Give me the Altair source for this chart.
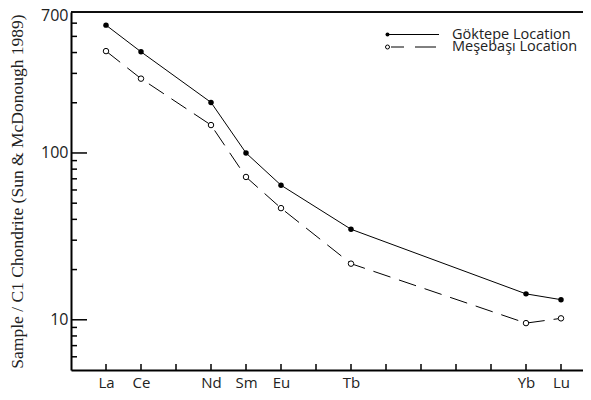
import altair as alt
import pandas as pd

# REE sequence index (La..Lu, Pm omitted); only analysed elements plotted
ree_sequence = ["La", "Ce", "Pr", "Nd", "Sm", "Eu", "Gd", "Tb", "Dy", "Ho", "Er", "Tm", "Yb", "Lu"]
elements = ["La", "Ce", "Nd", "Sm", "Eu", "Tb", "Yb", "Lu"]
goktepe = [584, 404, 201, 100, 64.1, 34.9, 14.3, 13.2]
mesebasi = [408, 279, 147, 71.8, 46.7, 21.7, 9.55, 10.2]
series_names = ["Göktepe Location", "Meşebaşı Location"]
y_labels = [10, 100, 700]
major_ticks = [10, 100]
minor_ticks = [6, 7, 8, 9, 20, 30, 40, 50, 60, 70, 80, 90, 200, 300, 400, 500, 600]
y_title = "Sample / C1 Chondrite (Sun & McDonough 1989)"

W, H = 512, 358
FONT = "Open Sans"
TXT = "#222222"

positions = [ree_sequence.index(e) for e in elements]
df_g = pd.DataFrame({"pos": positions, "value": goktepe, "el": elements})
df_m = pd.DataFrame({"pos": positions, "value": mesebasi, "el": elements})
df_xt = pd.DataFrame({"pos": list(range(len(ree_sequence)))})
df_minor = pd.DataFrame({"value": minor_ticks})
df_major = pd.DataFrame({"value": major_ticks})

label_expr = "''"
for p, e in zip(positions[::-1], elements[::-1]):
    label_expr = f"datum.value == {p} ? '{e}' : ({label_expr})"

xs = alt.Scale(domain=[-1, W / 35 - 1], nice=False, zero=False)
ys = alt.Scale(type="log", domain=[5, 700], nice=False)

xaxis = alt.Axis(values=positions, labelExpr=label_expr, ticks=False, grid=False,
                 domain=True, domainWidth=2, domainColor="black", title=None,
                 labelFont=FONT, labelFontSize=15, labelColor=TXT, labelPadding=5)
yaxis = alt.Axis(values=y_labels, format="d", ticks=False, grid=False,
                 domain=True, domainWidth=2, domainColor="black",
                 labelFont=FONT, labelFontSize=16, labelColor=TXT, labelPadding=3,
                 labelOffset={"condition": {"test": "datum.value == 700", "value": 3}, "value": 0},
                 title=y_title, titleFont="Liberation Serif", titleFontSize=17.5,
                 titleFontWeight="normal", titleColor=TXT, titlePadding=14)

X = alt.X("pos:Q", scale=xs, axis=xaxis)
Y = alt.Y("value:Q", scale=ys, axis=yaxis)

line_g = alt.Chart(df_g).mark_line(color="black", strokeWidth=1).encode(x=X, y=Y)
line_m = alt.Chart(df_m).mark_line(color="black", strokeWidth=1, strokeDash=[18, 9]).encode(x=X, y=Y)
pts_g = alt.Chart(df_g).mark_point(filled=True, color="black", size=30, opacity=1).encode(x=X, y=Y)
pts_m = alt.Chart(df_m).mark_point(filled=False, color="black", fill="white", fillOpacity=1,
                                   strokeWidth=1, size=30, opacity=1).encode(x=X, y=Y)

xt = alt.Chart(df_xt).mark_rule(color="black", strokeWidth=1.5).encode(
    x=X, y=alt.value(H), y2=alt.value(H - 6))
ymin = alt.Chart(df_minor).mark_rule(color="black", strokeWidth=1.5).encode(
    y=Y, x=alt.value(0), x2=alt.value(6))
ymaj = alt.Chart(df_major).mark_rule(color="black", strokeWidth=1.5).encode(
    y=Y, x=alt.value(0), x2=alt.value(16))
top = alt.Chart(df_major).mark_rule(color="black", strokeWidth=1.5).encode(
    x=alt.value(0), x2=alt.value(W), y=alt.value(0))

# legend
leg_df0 = pd.DataFrame({"label": [series_names[0]]})
leg_df1 = pd.DataFrame({"label": [series_names[1]]})
r0, r1 = 22.5, 35
leg_line0 = alt.Chart(leg_df0).mark_rule(color="black", strokeWidth=1).encode(
    x=alt.value(318), x2=alt.value(368), y=alt.value(r0))
leg_line1 = alt.Chart(leg_df1).mark_rule(color="black", strokeWidth=1, strokeDash=[13, 11, 21, 100]).encode(
    x=alt.value(320), x2=alt.value(366), y=alt.value(r1))
leg_pt0 = alt.Chart(leg_df0).mark_point(filled=True, color="black", size=16, opacity=1).encode(
    x=alt.value(316.5), y=alt.value(r0))
leg_pt1 = alt.Chart(leg_df1).mark_point(filled=False, color="black", fill="white", fillOpacity=1,
                                        size=16, strokeWidth=1, opacity=1).encode(
    x=alt.value(316.5), y=alt.value(r1))
leg_t0 = alt.Chart(leg_df0).mark_text(align="left", baseline="middle", font=FONT, fontSize=14.5,
                                      color=TXT).encode(x=alt.value(381), y=alt.value(r0), text="label:N")
leg_t1 = alt.Chart(leg_df1).mark_text(align="left", baseline="middle", font=FONT, fontSize=14.5,
                                      color=TXT).encode(x=alt.value(381), y=alt.value(r1), text="label:N")

chart = alt.layer(
    xt, ymin, ymaj, top, line_g, line_m, pts_g, pts_m,
    leg_line0, leg_line1, leg_pt0, leg_pt1, leg_t0, leg_t1
).properties(
    width=W, height=H,
    padding={"left": 63, "top": 4, "right": 0, "bottom": 22},
    autosize=alt.AutoSizeParams(type="none"),
).configure_view(stroke=None).configure(background="white")

chart.save("out.html", embed_options={"renderer": "svg", "actions": False})
